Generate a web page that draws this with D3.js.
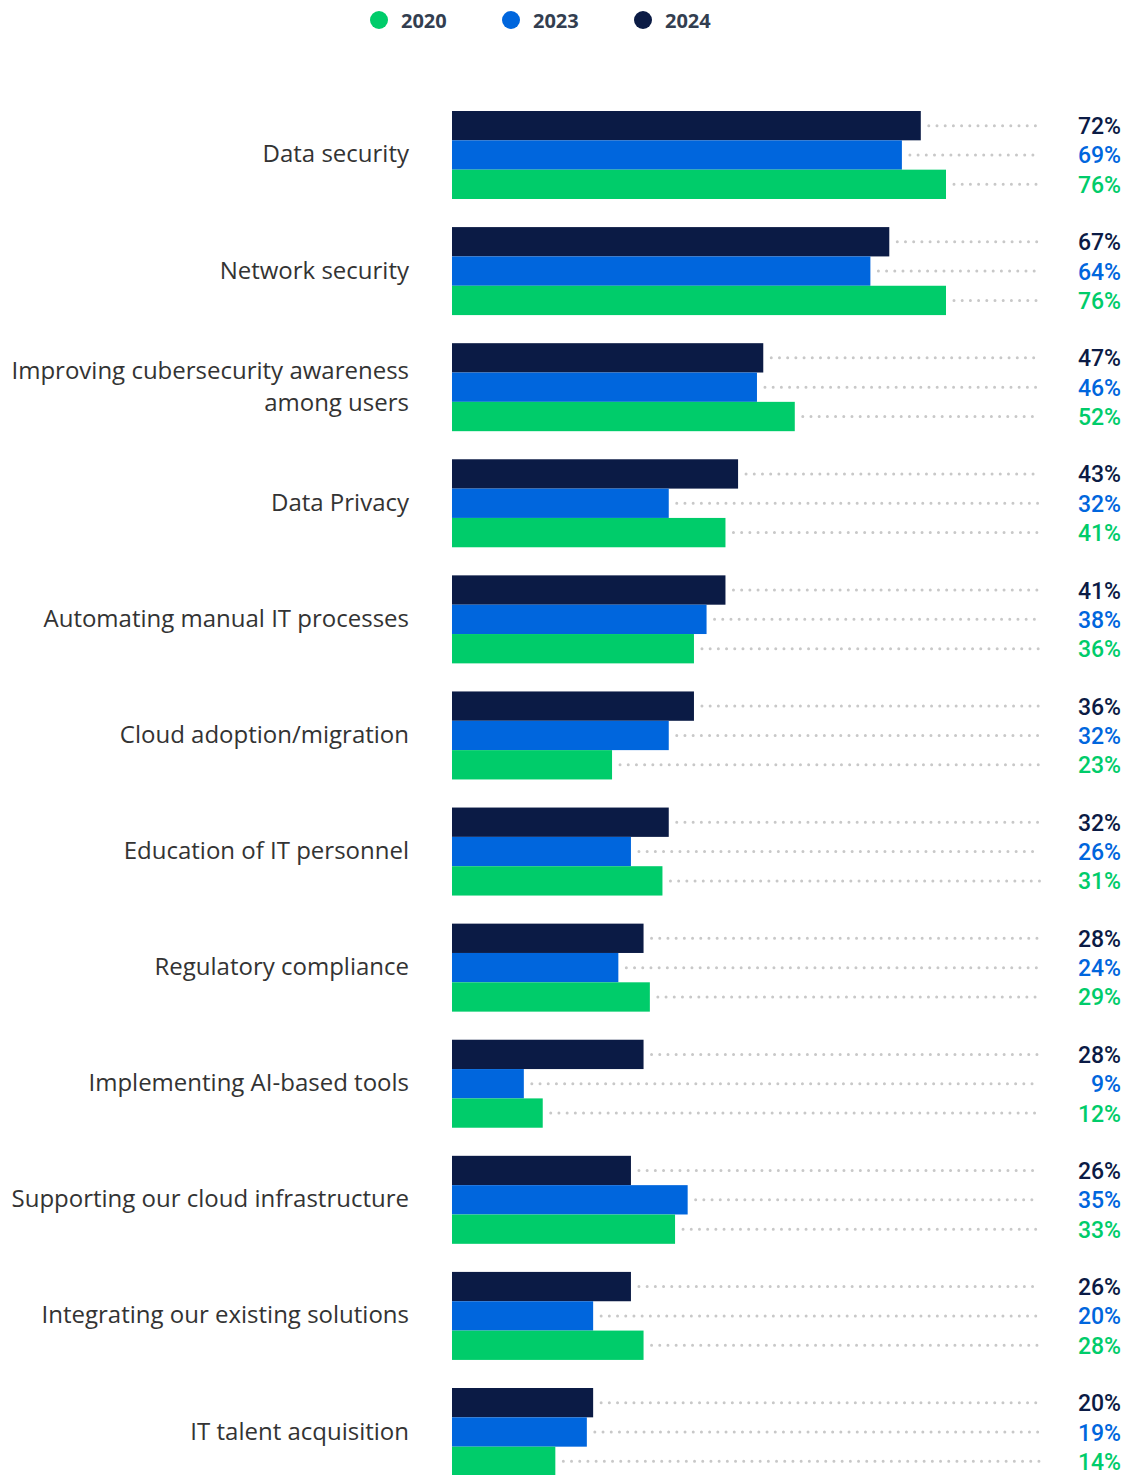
<!DOCTYPE html>
<html>
<head>
<meta charset="utf-8">
<script src="https://cdn.jsdelivr.net/npm/d3@7"></script>
<style>
  html, body { margin: 0; padding: 0; background: #fff; }
  svg { display: block; }
</style>
</head>
<body>
<svg id="chart" width="1129" height="1475"></svg>
<script>
const categories = [
  "Data security",
  "Network security",
  "Improving cubersecurity awareness|among users",
  "Data Privacy",
  "Automating manual IT processes",
  "Cloud adoption/migration",
  "Education of IT personnel",
  "Regulatory compliance",
  "Implementing AI-based tools",
  "Supporting our cloud infrastructure",
  "Integrating our existing solutions",
  "IT talent acquisition"
];
const seriesNames = ["2024", "2023", "2020"];
const values2024 = [72, 67, 47, 43, 41, 36, 32, 28, 28, 26, 26, 20];
const values2023 = [69, 64, 46, 32, 38, 32, 26, 24, 9, 35, 20, 19];
const values2020 = [76, 76, 52, 41, 36, 23, 31, 29, 12, 33, 28, 14];
const legendOrder = ["2020", "2023", "2024"];

const colors = { "2020": "#00cc6a", "2023": "#0066dd", "2024": "#0b1b45" };
const seriesValues = { "2024": values2024, "2023": values2023, "2020": values2020 };

const svg = d3.select("#chart");

// Scales
const x = d3.scaleLinear().domain([-2.4, 76]).range([452, 946]);
const y = d3.scaleBand().domain(categories).range([111, 1476]).paddingInner(0.242).paddingOuter(0);
const ys = d3.scaleBand().domain(seriesNames).range([0, y.bandwidth()]);

// Legend
const legend = svg.append("g");
const lx = d3.scalePoint().domain(legendOrder).range([379, 643]);
legendOrder.forEach(s => {
  legend.append("circle").attr("cx", lx(s)).attr("cy", 20).attr("r", 9).attr("fill", colors[s]);
  legend.append("text").attr("x", lx(s) + 22).attr("y", 20)
    .attr("dominant-baseline", "central")
    .attr("font-family", "'Open Sans', sans-serif")
    .attr("font-weight", 700).attr("font-size", 20)
    .attr("fill", "#333e50").text(s);
});

const data = [];
categories.forEach((c, i) => {
  seriesNames.forEach(s => data.push({ cat: c, series: s, value: seriesValues[s][i] }));
});

const g = svg.append("g");
const x0 = x.range()[0];

// dotted guides
g.selectAll("line.guide").data(data).join("line")
  .attr("class", "guide")
  .attr("x1", d => x(d.value) + 8)
  .attr("x2", 1040)
  .attr("y1", d => y(d.cat) + ys(d.series) + ys.bandwidth() / 2)
  .attr("y2", d => y(d.cat) + ys(d.series) + ys.bandwidth() / 2)
  .attr("stroke", "#c8c8c8")
  .attr("stroke-width", 3)
  .attr("stroke-linecap", "round")
  .attr("stroke-dasharray", "0 8.2");

// bars
g.selectAll("rect.bar").data(data).join("rect")
  .attr("class", "bar")
  .attr("x", x0)
  .attr("y", d => y(d.cat) + ys(d.series))
  .attr("width", d => x(d.value) - x0)
  .attr("height", ys.bandwidth())
  .attr("fill", d => colors[d.series]);

// value labels
g.selectAll("text.val").data(data).join("text")
  .attr("class", "val")
  .attr("x", 1121)
  .attr("y", d => y(d.cat) + ys(d.series) + ys.bandwidth() / 2 + 1)
  .attr("text-anchor", "end")
  .attr("dominant-baseline", "central")
  .attr("font-family", "Roboto, sans-serif")
  .attr("font-weight", 500)
  .attr("font-size", 23)
  .attr("fill", d => colors[d.series])
  .text(d => d.value + "%");

// category labels
categories.forEach(c => {
  const lines = c.split("|");
  const cy = y(c) + y.bandwidth() / 2 - 2;
  const lh = 32;
  const t = g.append("text")
    .attr("text-anchor", "end")
    .attr("font-family", "'Open Sans', sans-serif")
    .attr("font-size", 24)
    .attr("fill", "#333333");
  lines.forEach((ln, k) => {
    t.append("tspan").attr("x", 409)
      .attr("y", cy + (k - (lines.length - 1) / 2) * lh)
      .attr("dominant-baseline", "central")
      .text(ln);
  });
});
</script>
</body>
</html>
